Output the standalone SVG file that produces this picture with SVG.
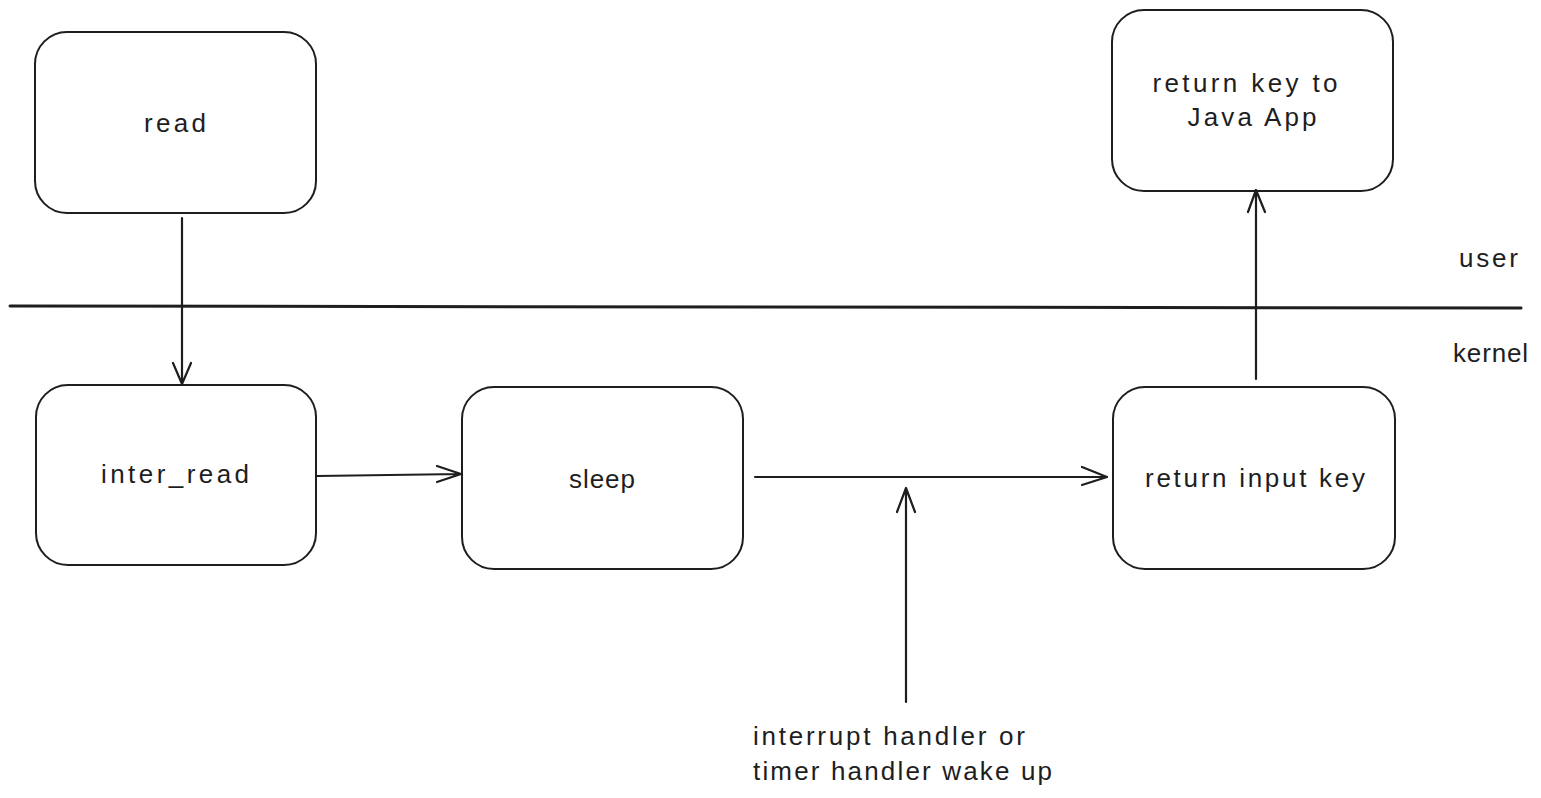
<svg xmlns="http://www.w3.org/2000/svg" width="1541" height="798" viewBox="0 0 1541 798">
  <style>
    .box { fill: #ffffff; stroke: #1e1e1e; stroke-width: 2; }
    .lbl { font-family: "Liberation Sans", "DejaVu Sans", sans-serif; font-size: 26px; fill: #1e1e1e; }
    .mid { text-anchor: middle; }
    .edge { fill: none; stroke: #1e1e1e; stroke-width: 2.2; stroke-linecap: round; stroke-linejoin: round; }
    .divider { fill: none; stroke: #1e1e1e; stroke-width: 3; stroke-linecap: round; }
  </style>
  <rect width="1541" height="798" fill="#ffffff"/>

  <!-- user / kernel boundary -->
  <g id="boundary">
    <line class="divider" x1="10" y1="306" x2="1521" y2="308"/>
    <text class="lbl" x="1459" y="267" textLength="59">user</text>
    <text class="lbl" x="1453" y="362" textLength="75">kernel</text>
  </g>

  <!-- nodes -->
  <g id="node-read">
    <rect class="box" x="35" y="32" width="281" height="181" rx="32"/>
    <text class="lbl mid" x="175" y="132" textLength="62">read</text>
  </g>
  <g id="node-inter-read">
    <rect class="box" x="36" y="385" width="280" height="180" rx="32"/>
    <text class="lbl mid" x="175" y="483" textLength="148">inter_read</text>
  </g>
  <g id="node-sleep">
    <rect class="box" x="462" y="387" width="281" height="182" rx="32"/>
    <text class="lbl mid" x="602" y="488" textLength="66">sleep</text>
  </g>
  <g id="node-return-input">
    <rect class="box" x="1113" y="387" width="282" height="182" rx="32"/>
    <text class="lbl mid" x="1255" y="487" textLength="220">return input key</text>
  </g>
  <g id="node-return-app">
    <rect class="box" x="1112" y="10" width="281" height="181" rx="32"/>
    <text class="lbl mid" x="1245" y="92" textLength="185">return key to</text>
    <text class="lbl mid" x="1252" y="126" textLength="129">Java App</text>
  </g>
  <g id="node-wakeup">
    <text class="lbl" x="753" y="745" textLength="272">interrupt handler or</text>
    <text class="lbl" x="753" y="780" textLength="299">timer handler wake up</text>
  </g>

  <!-- connectors -->
  <g id="connectors">
    <path class="edge" d="M182 218 L182 384 M173 363 L182 384 L191 363"/>
    <path class="edge" d="M317 476 L461 474 M437 466 L461 474 L437 482"/>
    <path class="edge" d="M755 477 L1107 477 M1082 467 L1107 477 L1082 485"/>
    <path class="edge" d="M906 702 L906 488 M897 512 L906 488 L915 512"/>
    <path class="edge" d="M1256 379 L1256 190 M1248 212 L1256 190 L1265 212"/>
  </g>
</svg>
